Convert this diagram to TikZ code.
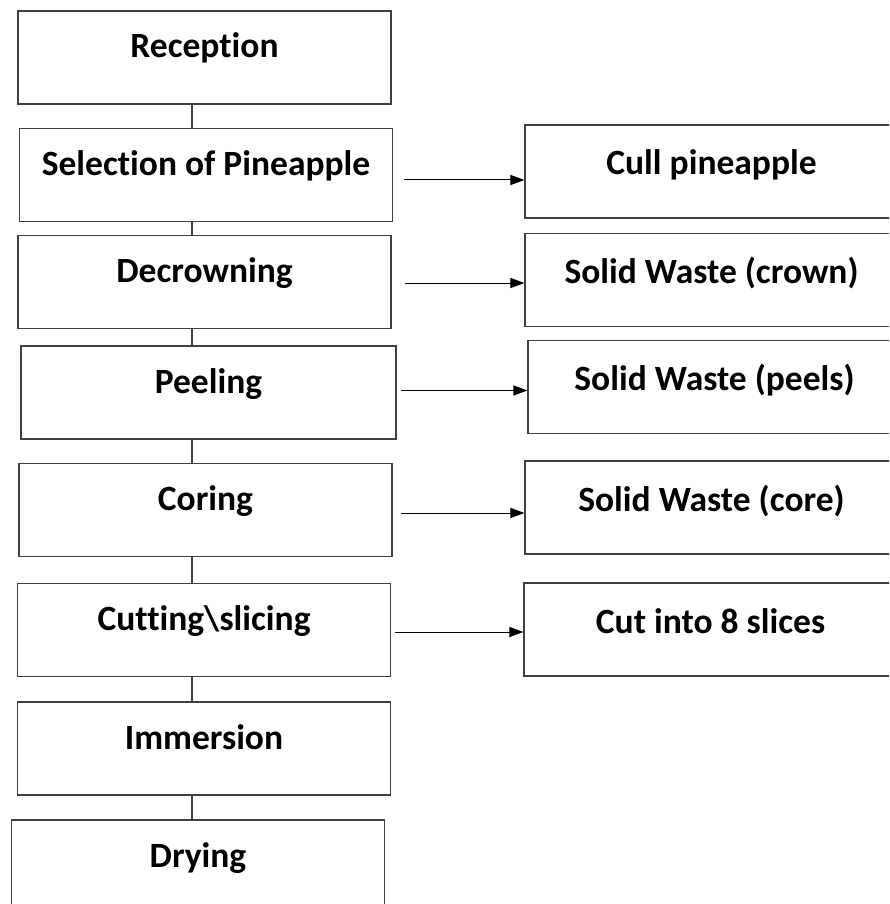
\documentclass[tikz,border=0pt]{standalone}
\usepackage{fontspec}
\setmainfont{Carlito}[Ligatures=NoCommon]
\usetikzlibrary{positioning,calc,arrows.meta}

\tikzset{
  stepbox/.style={draw=black!75, line width=1.1pt, inner sep=0pt,
    minimum width=373pt, text height=47pt, text depth=46pt,
    font=\fontsize{35.5}{40}\selectfont\bfseries},
  wastebox/.style={stepbox, text height=50pt, text depth=43pt},
  link/.style={draw=black!75, line width=1.1pt},
  flow/.style={draw=black, line width=1pt, -{Triangle[length=14pt,width=10pt]}, shorten <=8pt}
}

\begin{document}
\begin{tikzpicture}[x=1pt, y=-1pt]
  \useasboundingbox (0,0) rectangle (889,904);
  \clip (0,0) rectangle (889,904);

  % Process steps
  \node[stepbox] (rec)  at (204.5, 57.5) {Reception};
  \node[stepbox] (sel)  at (206, 175)    {Selection of Pineapple};
  \node[stepbox] (dec)  at (204.5, 282)  {Decrowning};
  \node[stepbox, minimum width=375pt] (peel) at (208.5, 392.5) {Peeling};
  \node[stepbox] (cor)  at (205.5, 510)  {Coring};
  \node[stepbox] (cut)  at (204, 630)    {Cutting\textbackslash slicing};
  \node[stepbox] (imm)  at (204, 748.5)  {Immersion};
  \node[stepbox] (dry)  at (198, 866.5)  {Drying};

  % Side outputs
  \node[wastebox] (cull)   at (711.5, 171.5) {Cull pineapple};
  \node[wastebox] (crown)  at (711.5, 280)   {Solid Waste (crown)};
  \node[wastebox] (peels)  at (714.5, 387)   {Solid Waste (peels)};
  \node[wastebox] (core)   at (711.5, 507.5) {Solid Waste (core)};
  \node[wastebox] (slices) at (710.5, 629.5) {Cut into 8 slices};

  % Main line
  \coordinate (spine) at (192, 0);
  \draw[link] (rec.south -| spine) -- (sel.north -| spine);
  \draw[link] (sel.south -| spine) -- (dec.north -| spine);
  \draw[link] (dec.south -| spine) -- (peel.north -| spine);
  \draw[link] (peel.south -| spine) -- (cor.north -| spine);
  \draw[link] (cor.south -| spine) -- (cut.north -| spine);
  \draw[link] (cut.south -| spine) -- (imm.north -| spine);
  \draw[link] (imm.south -| spine) -- (dry.north -| spine);

  % Arrows to side outputs
  \coordinate (a1) at ($(sel.east)+(0,5)$);
  \coordinate (a2) at ($(dec.east)+(0,1)$);
  \coordinate (a3) at ($(peel.east)+(0,-2)$);
  \coordinate (a4) at ($(cor.east)+(0,3)$);
  \coordinate (a5) at ($(cut.east)+(0,2)$);
  \draw[flow, shorten <=11pt] (a1) -- (a1 -| cull.west);
  \draw[flow, shorten <=13pt] (a2) -- (a2 -| crown.west);
  \draw[flow, shorten <=4pt] (a3) -- (a3 -| peels.west);
  \draw[flow] (a4) -- (a4 -| core.west);
  \draw[flow, shorten <=4pt] (a5) -- (a5 -| slices.west);
\end{tikzpicture}
\end{document}
